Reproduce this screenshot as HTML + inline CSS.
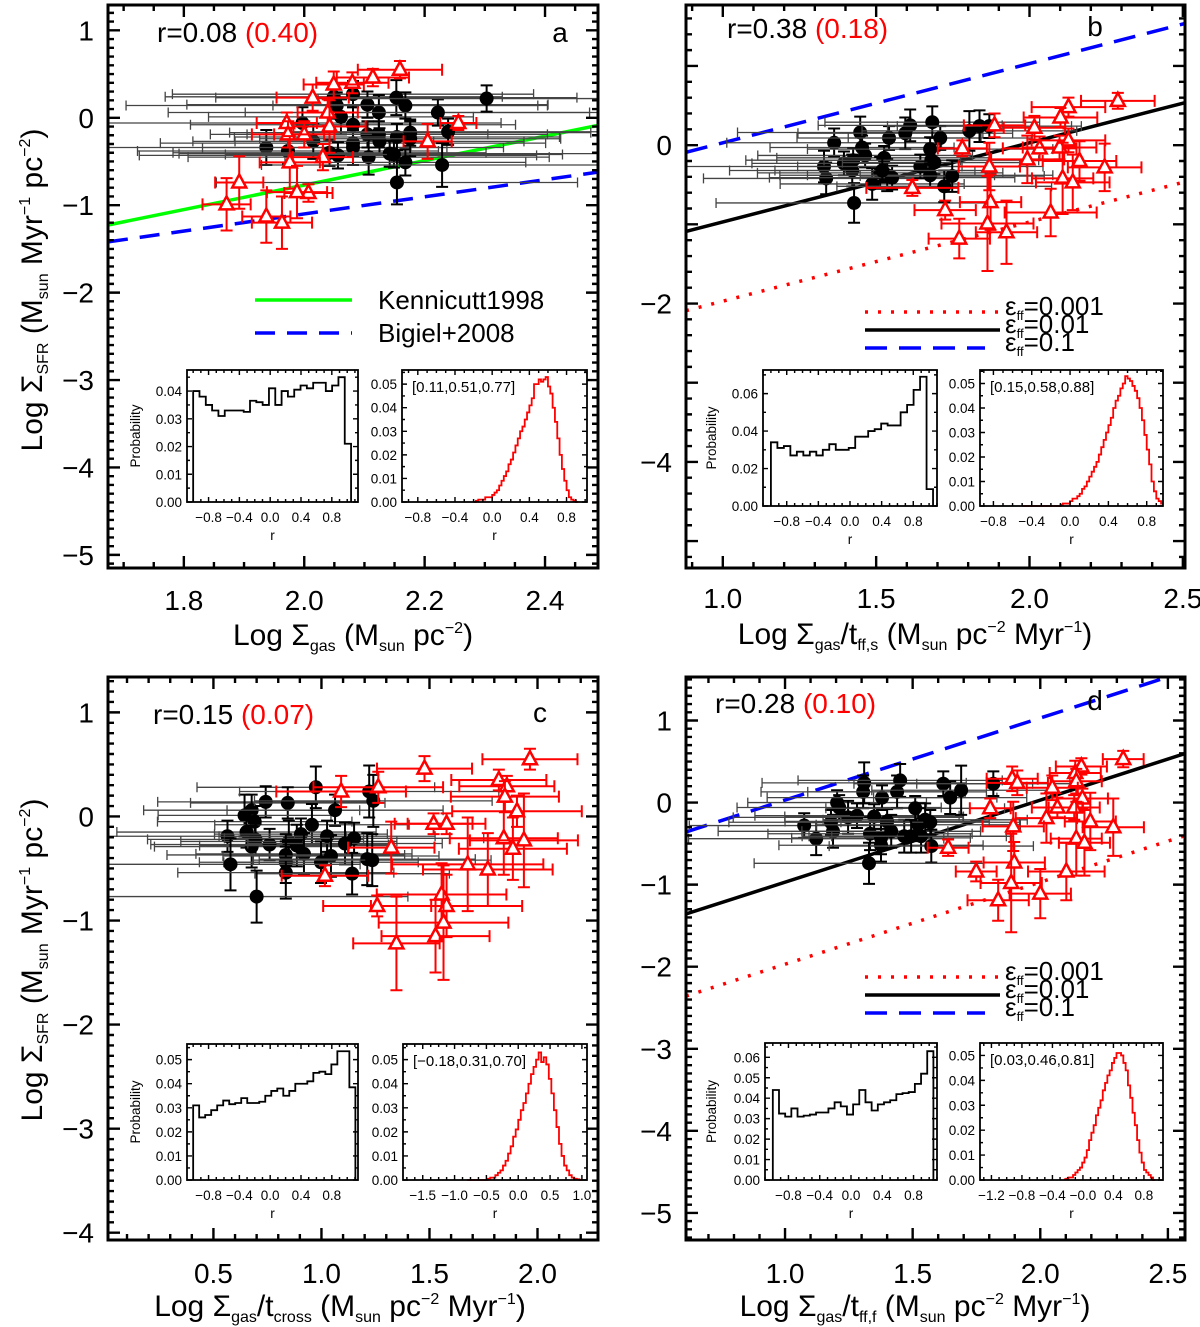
<!DOCTYPE html>
<html><head><meta charset="utf-8"><title>SFR correlation panels</title>
<style>
html,body{margin:0;padding:0;background:#fff;}
svg{display:block;font-family:"Liberation Sans",sans-serif;}
</style></head>
<body>
<svg id="fig" xmlns="http://www.w3.org/2000/svg" width="1200" height="1327" viewBox="0 0 1200 1327">
<rect width="1200" height="1327" fill="#fff"/>
</svg>
<script>
// ---------- data: panel a ----------
const aBlackX=[1.937,1.973,1.997,2.015,2.049,2.054,2.061,2.081,2.081,2.081,2.081,2.105,2.105,2.124,2.124,2.125,2.107,2.056,2.042,2.153,2.154,2.168,2.176,2.176,2.142,2.149,2.168,2.154,2.222,2.239,2.229,2.303];
const aBlackY=[-0.34,-0.38,-0.06,-0.27,0.24,0.14,0.01,0.27,-0.08,-0.29,-0.34,0.15,-0.19,0.06,-0.19,-0.27,-0.45,-0.43,-0.40,0.23,-0.22,0.14,-0.17,-0.24,-0.41,-0.42,-0.51,-0.74,0.06,-0.16,-0.54,0.22];
const aBlackXerr=[0.3,0.25,0.33,0.2,0.28,0.35,0.22,0.3,0.27,0.32,0.25,0.3,0.2,0.35,0.28,0.24,0.3,0.33,0.26,0.3,0.27,0.22,0.3,0.25,0.35,0.28,0.2,0.3,0.32,0.26,0.3,0.28];
const aBlackYerr=[0.2,0.15,0.18,0.2,0.15,0.15,0.2,0.15,0.2,0.15,0.2,0.15,0.15,0.2,0.15,0.15,0.2,0.15,0.15,0.2,0.15,0.15,0.15,0.2,0.15,0.15,0.15,0.25,0.15,0.15,0.25,0.15];
const aRedX=[2.159,2.114,2.080,2.049,2.014,2.039,1.971,2.042,2.000,1.973,2.256,2.205,2.031,1.976,1.892,1.871,2.007,1.988,1.937,1.963];
const aRedY=[0.55,0.46,0.40,0.38,0.23,0.06,-0.06,-0.10,-0.19,-0.19,-0.06,-0.27,-0.45,-0.51,-0.74,-0.99,-0.86,-0.85,-1.13,-1.20];
const aRedXerr=[0.07,0.06,0.06,0.05,0.06,0.05,0.05,0.06,0.05,0.06,0.03,0.04,0.05,0.05,0.04,0.04,0.04,0.05,0.04,0.05];
const aRedYerr=[0.1,0.1,0.12,0.15,0.15,0.15,0.12,0.3,0.15,0.15,0.08,0.2,0.15,0.3,0.3,0.3,0.1,0.3,0.3,0.3];
// ---------- data: panel b ----------
const bBlackX=[1.363,1.448,1.454,1.464,1.330,1.337,1.395,1.425,1.422,1.428,1.487,1.526,1.513,1.542,1.536,1.552,1.595,1.611,1.644,1.683,1.709,1.676,1.680,1.690,1.676,1.722,1.748,1.804,1.837,1.869,1.520];
const bBlackY=[0.03,0.16,-0.03,-0.13,-0.27,-0.42,-0.23,-0.19,-0.32,-0.73,-0.49,-0.16,-0.35,0.09,-0.38,-0.41,0.15,0.25,-0.27,0.29,0.09,-0.05,-0.19,-0.22,-0.38,-0.52,-0.39,0.18,0.24,0.24,-0.32];
const bBlackXerr=[0.35,0.4,0.3,0.35,0.45,0.4,0.3,0.35,0.4,0.45,0.3,0.35,0.4,0.3,0.35,0.4,0.35,0.3,0.4,0.35,0.3,0.4,0.35,0.3,0.4,0.35,0.3,0.35,0.3,0.3,0.35];
const bBlackYerr=[0.18,0.2,0.15,0.15,0.2,0.2,0.15,0.15,0.2,0.25,0.2,0.15,0.2,0.15,0.2,0.15,0.2,0.2,0.15,0.2,0.15,0.15,0.2,0.15,0.15,0.2,0.2,0.25,0.2,0.15,0.15];
const bRedX=[2.288,2.127,2.101,2.016,1.886,2.127,2.033,2.098,1.781,1.993,2.163,1.869,2.245,2.108,2.141,1.618,1.873,1.725,2.069,1.863,1.925,1.771];
const bRedY=[0.56,0.48,0.35,0.22,0.25,0.06,-0.04,-0.03,-0.04,-0.18,-0.20,-0.27,-0.28,-0.42,-0.47,-0.54,-0.72,-0.82,-0.85,-0.99,-1.10,-1.18];
const bRedXerr=[0.12,0.12,0.12,0.1,0.1,0.12,0.12,0.12,0.08,0.12,0.12,0.1,0.12,0.1,0.12,0.15,0.1,0.1,0.15,0.15,0.1,0.1];
const bRedYerr=[0.1,0.12,0.12,0.15,0.15,0.15,0.15,0.15,0.1,0.3,0.25,0.3,0.3,0.45,0.35,0.1,0.35,0.12,0.3,0.6,0.4,0.25];
// ---------- data: panel c ----------
const cBlackX=[0.974,0.742,0.844,0.677,0.644,0.691,1.063,0.956,0.653,0.565,0.695,0.677,0.760,0.849,0.905,0.886,1.026,1.151,1.109,0.919,0.835,0.835,1.044,0.998,0.579,0.835,1.142,1.221,1.240,1.212,1.235,0.700];
const cBlackY=[0.28,0.14,0.13,0.06,0.01,-0.05,0.06,-0.08,-0.15,-0.19,-0.22,-0.29,-0.27,-0.24,-0.17,-0.28,-0.19,-0.21,-0.26,-0.36,-0.37,-0.44,-0.38,-0.44,-0.46,-0.54,-0.55,0.24,0.15,-0.41,-0.42,-0.77];
const cBlackXerr=[0.55,0.5,0.45,0.5,0.4,0.45,0.5,0.45,0.6,0.55,0.5,0.45,0.55,0.5,0.4,0.45,0.5,0.6,0.45,0.5,0.55,0.4,0.5,0.45,0.6,0.5,0.45,0.6,0.55,0.5,0.55,0.7];
const cBlackYerr=[0.2,0.15,0.15,0.15,0.2,0.15,0.15,0.2,0.15,0.15,0.15,0.2,0.15,0.2,0.15,0.2,0.15,0.15,0.2,0.2,0.2,0.2,0.2,0.2,0.25,0.25,0.2,0.25,0.25,0.25,0.25,0.25];
const cRedX=[1.965,1.477,1.821,1.858,1.849,1.263,1.091,1.905,1.519,1.579,1.844,1.937,1.886,1.323,1.677,1.770,1.016,1.556,1.579,1.258,1.565,1.528,1.347];
const cRedY=[0.55,0.46,0.35,0.29,0.19,0.28,0.24,0.05,-0.07,-0.07,-0.21,-0.23,-0.31,-0.30,-0.46,-0.51,-0.57,-0.75,-0.86,-0.86,-1.02,-1.15,-1.22];
const cRedXerr=[0.22,0.22,0.22,0.22,0.25,0.3,0.3,0.3,0.18,0.18,0.25,0.25,0.25,0.2,0.35,0.3,0.2,0.3,0.35,0.25,0.3,0.25,0.2];
const cRedYerr=[0.1,0.12,0.1,0.1,0.15,0.15,0.15,0.15,0.1,0.1,0.35,0.45,0.3,0.25,0.45,0.35,0.1,0.3,0.3,0.1,0.55,0.35,0.45];
// ---------- data: panel d ----------
const dBlackX=[1.075,1.122,1.180,1.188,1.204,1.212,1.247,1.282,1.306,1.310,1.349,1.333,1.380,1.376,1.376,1.400,1.416,1.439,1.451,1.467,1.510,1.522,1.533,1.549,1.569,1.573,1.620,1.647,1.690,1.816,1.329,1.494];
const dBlackY=[-0.28,-0.44,-0.24,-0.35,0.00,-0.06,-0.18,-0.16,0.13,0.24,-0.17,-0.38,0.06,-0.43,-0.52,-0.23,-0.35,0.13,0.27,-0.41,-0.07,-0.27,-0.41,-0.21,-0.24,-0.53,0.23,0.06,0.15,0.23,-0.74,-0.41];
const dBlackXerr=[0.45,0.5,0.4,0.45,0.35,0.4,0.45,0.4,0.4,0.4,0.35,0.4,0.45,0.35,0.4,0.4,0.35,0.35,0.4,0.4,0.35,0.4,0.35,0.4,0.35,0.4,0.35,0.3,0.35,0.3,0.45,0.4];
const dBlackYerr=[0.15,0.2,0.15,0.2,0.15,0.15,0.2,0.15,0.2,0.25,0.15,0.2,0.15,0.2,0.2,0.15,0.2,0.2,0.2,0.2,0.15,0.2,0.2,0.2,0.15,0.2,0.15,0.2,0.3,0.15,0.25,0.2];
const dRedX=[2.325,2.161,2.137,2.141,1.890,1.910,2.047,2.165,1.804,2.067,2.133,2.024,2.196,1.894,2.286,2.141,2.173,1.639,1.898,1.749,2.102,1.886,2.000,1.835];
const dRedY=[0.53,0.44,0.36,0.26,0.29,0.24,0.18,0.05,-0.07,-0.06,-0.06,-0.19,-0.23,-0.29,-0.30,-0.44,-0.49,-0.55,-0.73,-0.84,-0.84,-0.98,-1.11,-1.19];
const dRedXerr=[0.08,0.1,0.1,0.1,0.1,0.12,0.1,0.1,0.08,0.1,0.1,0.12,0.1,0.12,0.12,0.1,0.1,0.08,0.12,0.08,0.15,0.12,0.12,0.12];
const dRedYerr=[0.1,0.1,0.15,0.15,0.15,0.15,0.15,0.12,0.12,0.12,0.15,0.3,0.35,0.3,0.35,0.45,0.4,0.1,0.25,0.12,0.35,0.6,0.3,0.25];
// ---------- inset histograms ----------
const aHist1=[0.040,0.038,0.035,0.033,0.031,0.033,0.033,0.033,0.0325,0.0365,0.036,0.035,0.041,0.035,0.040,0.038,0.0405,0.042,0.041,0.043,0.043,0.040,0.042,0.045,0.021];
const bHist1=[0.034,0.031,0.032,0.027,0.029,0.027,0.029,0.027,0.030,0.033,0.030,0.030,0.031,0.037,0.037,0.040,0.041,0.044,0.043,0.043,0.050,0.054,0.062,0.069,0.009];
const cHist1=[0.031,0.026,0.027,0.029,0.031,0.033,0.0315,0.032,0.034,0.032,0.032,0.0325,0.035,0.037,0.038,0.035,0.037,0.040,0.040,0.041,0.0445,0.045,0.044,0.048,0.0535,0.0535,0.0385];
const dHist1=[0.044,0.0325,0.031,0.035,0.031,0.0315,0.032,0.033,0.033,0.035,0.038,0.036,0.032,0.037,0.044,0.038,0.034,0.037,0.038,0.039,0.042,0.0425,0.043,0.047,0.052,0.063];
const aHist2=[0,0.0005,0.001,0.001,0.001,0.002,0.002,0.002,0.003,0.004,0.005,0.007,0.009,0.011,0.013,0.016,0.018,0.021,0.024,0.027,0.030,0.032,0.035,0.038,0.041,0.044,0.050,0.050,0.052,0.051,0.052,0.053,0.049,0.046,0.040,0.034,0.027,0.020,0.014,0.009,0.005,0.002,0.001,0.0005,0];
const bHist2=[0,0,0,0,0,0,0,0,0,0,0,0,0,0,0,0,0.0005,0.001,0.001,0.001,0.002,0.003,0.003,0.004,0.005,0.007,0.008,0.010,0.012,0.014,0.016,0.018,0.021,0.024,0.027,0.030,0.033,0.036,0.040,0.043,0.045,0.048,0.050,0.053,0.052,0.051,0.049,0.047,0.044,0.040,0.035,0.029,0.023,0.017,0.010,0.006,0.003,0.002,0.001];
const cHist2=[0,0,0,0,0,0,0,0,0.0005,0.001,0.001,0.002,0.003,0.004,0.006,0.008,0.011,0.014,0.018,0.021,0.025,0.029,0.032,0.036,0.040,0.044,0.047,0.050,0.053,0.049,0.051,0.048,0.042,0.036,0.029,0.022,0.015,0.010,0.006,0.004,0.002,0.001,0.0005,0.0003,0];
const dHist2=[0.0003,0.0005,0.001,0.001,0.002,0.003,0.004,0.005,0.007,0.009,0.012,0.016,0.019,0.022,0.026,0.029,0.032,0.036,0.039,0.042,0.044,0.047,0.049,0.051,0.051,0.050,0.047,0.044,0.038,0.033,0.027,0.022,0.016,0.011,0.007,0.004,0.003,0.002,0.001,0];

const NS="http://www.w3.org/2000/svg";
const svg=document.getElementById('fig');
function el(tag,attrs,parent){const e=document.createElementNS(NS,tag);for(const k in attrs)e.setAttribute(k,attrs[k]);(parent||svg).appendChild(e);return e;}
function lin(d0,d1,p0,p1){return v=>p0+(v-d0)*(p1-p0)/(d1-d0);}

function frameTicks(g,box,xs,ys,xr,yr,xmaj,xmin,ymaj,ymin,lw,majL,minL){
  const [L,T,R,B]=box;
  let d='';
  const eps=1e-9;
  for(let v=Math.ceil((xr[0]-eps)/xmin)*xmin; v<=xr[1]+eps; v+=xmin){
    const isMaj=Math.abs(v/xmaj-Math.round(v/xmaj))<1e-6;const len=isMaj?majL:minL;const px=xs(v);
    d+=`M${px},${B}v${-len}M${px},${T}v${len}`;
  }
  for(let v=Math.ceil((yr[0]-eps)/ymin)*ymin; v<=yr[1]+eps; v+=ymin){
    const isMaj=Math.abs(v/ymaj-Math.round(v/ymaj))<1e-6;const len=isMaj?majL:minL;const py=ys(v);
    d+=`M${L},${py}h${len}M${R},${py}h${-len}`;
  }
  const p=el('path',{d:d,stroke:'#000','stroke-width':lw*0.8,fill:'none'},g);
  
  
  const r=el('rect',{x:L,y:T,width:R-L,height:B-T,fill:'none',stroke:'#000','stroke-width':lw},g);
  
  
}

function mainPanel(cfg){
  const g=el('g',{});
  
  
  const [L,T,R,B]=cfg.box;
  const xs=lin(cfg.xr[0],cfg.xr[1],L,R), ys=lin(cfg.yr[0],cfg.yr[1],B,T);
  const cid='clip'+cfg.id;
  const cp=el('clipPath',{id:cid},g);el('rect',{x:L,y:T,width:R-L,height:B-T},cp);
  const inner=el('g',{'clip-path':`url(#${cid})`},g);
  cfg.lines.forEach(ln=>{
    const p=el('line',{x1:xs(cfg.xr[0]),y1:ys(ln.a*cfg.xr[0]+ln.b),x2:xs(cfg.xr[1]),y2:ys(ln.a*cfg.xr[1]+ln.b),stroke:ln.c,'stroke-width':ln.w,'stroke-dasharray':ln.dash||'none'},inner);
    
    
  });
  const bg=el('g',{},inner);
  
  
  cfg.bx.forEach((x,i)=>{
    const y=cfg.by[i],ex=cfg.bxe[i],ey=cfg.bye[i];
    const x0=xs(x-ex),x1=xs(x+ex),y0=ys(y-ey),y1=ys(y+ey),px=xs(x),py=ys(y);
    el('path',{d:`M${x0},${py}H${x1}M${x0},${py-5}v10M${x1},${py-5}v10`,stroke:'#444','stroke-width':1.3,fill:'none'},bg);
    el('path',{d:`M${px},${y0}V${y1}M${px-6},${y0}h12M${px-6},${y1}h12`,stroke:'#000','stroke-width':2,fill:'none'},bg);
    const c=el('circle',{cx:px,cy:py,r:7,fill:'#000'},bg);
    
    
  });
  const rg=el('g',{},inner);
  
  
  cfg.rx.forEach((x,i)=>{
    const y=cfg.ry[i],ex=cfg.rxe[i],ey=cfg.rye[i];
    const x0=xs(x-ex),x1=xs(x+ex),y0=ys(y-ey),y1=ys(y+ey),px=xs(x),py=ys(y);
    el('path',{d:`M${x0},${py}H${x1}M${x0},${py-6}v12M${x1},${py-6}v12M${px},${y0}V${y1}M${px-6},${y0}h12M${px-6},${y1}h12`,stroke:'#f00','stroke-width':2,fill:'none'},rg);
    const t=el('path',{d:`M${px},${py-8}L${px+7},${py+5}L${px-7},${py+5}Z`,stroke:'#f00','stroke-width':2.5,fill:'#fff'},rg);
    
    
  });
  frameTicks(g,cfg.box,xs,ys,cfg.xr,cfg.yr,cfg.xmaj,cfg.xmin,cfg.ymaj,cfg.ymin,3,12,6);
  cfg.xticks.forEach(v=>{const t=el('text',{x:xs(v),y:cfg.xlabY,'font-size':28,'text-anchor':'middle'},g);t.textContent=v.toFixed(1);
    });
  cfg.yticks.forEach(v=>{const t=el('text',{x:L-14,y:ys(v)+10,'font-size':28,'text-anchor':'end'},g);t.textContent=(v<0?'\u2212'+(-v):String(v));
    });
  const rt=el('text',{x:cfg.rpos[0],y:cfg.rpos[1],'font-size':28},g);
  
  
  const t1=el('tspan',{},rt);t1.textContent=cfg.rtxt;
  const t2=el('tspan',{fill:'#f00'},rt);t2.textContent=cfg.rred;
  const pl=el('text',{x:cfg.lpos[0],y:cfg.lpos[1],'font-size':28,'text-anchor':'middle'},g);pl.textContent=cfg.id;
  
  
  return {xs,ys,g};
}

function inset(cfg,g){
  const [L,T,R,B]=cfg.box;
  const xs=lin(cfg.xr[0],cfg.xr[1],L,R), ys=lin(0,cfg.ymax,B,T);
  const ig=el('g',{},g);
  
  
  el('rect',{x:L,y:T,width:R-L,height:B-T,fill:'#fff'},ig);
  const n=cfg.vals.length;let d='';
  for(let i=0;i<n;i++){
    const x0=xs(cfg.start+i*cfg.w),x1=xs(cfg.start+(i+1)*cfg.w),y=ys(cfg.vals[i]);
    d+=(i===0?`M${x0},${cfg.closed?ys(0):y}L${x0},${y}`:`L${x0},${y}`)+`L${x1},${y}`;
    if(i===n-1&&cfg.closed)d+=`L${x1},${ys(0)}`;
  }
  const h=el('path',{d:d,fill:'none',stroke:cfg.color,'stroke-width':1.8},ig);
  
  
  frameTicks(ig,cfg.box,xs,ys,cfg.xr,[0,cfg.ymax],cfg.xmaj,cfg.xmaj/4,cfg.ystep,cfg.ystep/2,1.8,5,3);
  cfg.xticks.forEach((v,i)=>{const t=el('text',{x:xs(v),y:B+20,'font-size':13.5,'text-anchor':'middle'},ig);t.textContent=cfg.xlabels[i];
    });
  for(let v=0;v<=cfg.ymax+1e-9;v+=cfg.ystep){const t=el('text',{x:L-5,y:ys(v)+5,'font-size':13.5,'text-anchor':'end'},ig);t.textContent=v.toFixed(2);
    }
  const rl=el('text',{x:(L+R)/2,y:B+38,'font-size':13.5,'text-anchor':'middle'},ig);rl.textContent='r';
  
  if(cfg.prob){const p=el('text',{x:0,y:0,'font-size':13.5,'text-anchor':'middle',transform:`translate(${cfg.probX},${(T+B)/2}) rotate(-90)`},ig);p.textContent='Probability';
    }
  if(cfg.label){const t=el('text',{x:L+10,y:T+22,'font-size':15},ig);t.textContent=cfg.label;
    }
}

const h1lab=['\u22120.8','\u22120.4','0.0','0.4','0.8'];
// ---- panel a
let P=mainPanel({id:'a',box:[108,5,598,568],xr:[1.674,2.488],yr:[-5.15,1.29],xmaj:0.2,xmin:0.05,ymaj:1,ymin:0.1,
 xticks:[1.8,2.0,2.2,2.4],yticks:[1,0,-1,-2,-3,-4,-5],xlabY:610,
 lines:[{a:1.4,b:-3.57,c:'#0f0',w:3.5,name:'kennicutt-line'},{a:0.98,b:-3.06,c:'#00f',w:3.5,dash:'20,12',name:'bigiel-line'}],
 bx:aBlackX,by:aBlackY,bxe:aBlackXerr,bye:aBlackYerr,rx:aRedX,ry:aRedY,rxe:aRedXerr,rye:aRedYerr,
 rpos:[157,42],rtxt:'r=0.08 ',rred:'(0.40)',lpos:[560,42]});
el('line',{x1:255,y1:300,x2:352,y2:300,stroke:'#0f0','stroke-width':3.5},P.g);
let lt=el('text',{x:378,y:309,'font-size':26},P.g);lt.textContent='Kennicutt1998';

el('line',{x1:255,y1:333,x2:352,y2:333,stroke:'#00f','stroke-width':3.5,'stroke-dasharray':'20,12'},P.g);
lt=el('text',{x:378,y:342,'font-size':26},P.g);lt.textContent='Bigiel+2008';

inset({name:'inset-null-hist-a',box:[187,370,358,502],xr:[-1.08,1.14],ymax:0.0476,ystep:0.01,xmaj:0.4,xticks:[-0.8,-0.4,0,0.4,0.8],xlabels:h1lab,vals:aHist1,start:-1,w:0.082,color:'#000',closed:true,prob:true,probX:140},P.g);
inset({name:'inset-obs-hist-a',box:[402,370,587,502],xr:[-0.97,1.02],ymax:0.056,ystep:0.01,xmaj:0.4,xticks:[-0.8,-0.4,0,0.4,0.8],xlabels:h1lab,vals:aHist2,start:-0.2,w:0.025,color:'#f00',label:'[0.11,0.51,0.77]'},P.g);

// ---- panel b
P=mainPanel({id:'b',box:[686,5,1185,568],xr:[0.88,2.507],yr:[-5.34,1.77],xmaj:0.5,xmin:0.1,ymaj:1,ymin:0.2,
 xticks:[1.0,1.5,2.0,2.5],yticks:[0,-2,-4],xlabY:608,
 lines:[{a:1,b:-2.97,c:'#f00',w:3.5,dash:'3,10',name:'eff-0.001-line'},{a:1,b:-1.97,c:'#000',w:3.5,name:'eff-0.01-line'},{a:1,b:-0.97,c:'#00f',w:3.5,dash:'22,12',name:'eff-0.1-line'}],
 bx:bBlackX,by:bBlackY,bxe:bBlackXerr,bye:bBlackYerr,rx:bRedX,ry:bRedY,rxe:bRedXerr,rye:bRedYerr,
 rpos:[727,38],rtxt:'r=0.38 ',rred:'(0.18)',lpos:[1095,36]});
function effLegend(g,y0){
  const items=[['0.001','#f00','3,10'],['0.01','#000','none'],['0.1','#00f','22,12']];
  items.forEach((it,i)=>{
    const y=y0+i*18;
    el('line',{x1:865,y1:y,x2:i===2?985:1000,y2:y,stroke:it[1],'stroke-width':3.5,'stroke-dasharray':it[2]},g);
    const t=el('text',{x:1005,y:y+3,'font-size':26},g);
    
    const a=el('tspan',{},t);a.textContent='\u03b5';
    const b=el('tspan',{'font-size':13,dy:5},t);b.textContent='ff';
    const c=el('tspan',{dy:-5},t);c.textContent='='+it[0];
  });
}
effLegend(P.g,312);
inset({name:'inset-null-hist-b',box:[763,370,937,506],xr:[-1.1,1.1],ymax:0.0726,ystep:0.02,xmaj:0.4,xticks:[-0.8,-0.4,0,0.4,0.8],xlabels:h1lab,vals:bHist1,start:-1,w:0.082,color:'#000',closed:true,prob:true,probX:716},P.g);
inset({name:'inset-obs-hist-b',box:[980,370,1163,506],xr:[-0.94,0.97],ymax:0.0555,ystep:0.01,xmaj:0.4,xticks:[-0.8,-0.4,0,0.4,0.8],xlabels:h1lab,vals:bHist2,start:-0.5,w:0.025,color:'#f00',label:'[0.15,0.58,0.88]'},P.g);

// ---- panel c
P=mainPanel({id:'c',box:[108,677,598,1240],xr:[0.012,2.28],yr:[-4.07,1.34],xmaj:0.5,xmin:0.1,ymaj:1,ymin:0.1,
 xticks:[0.5,1.0,1.5,2.0],yticks:[1,0,-1,-2,-3,-4],xlabY:1283,
 lines:[],
 bx:cBlackX,by:cBlackY,bxe:cBlackXerr,bye:cBlackYerr,rx:cRedX,ry:cRedY,rxe:cRedXerr,rye:cRedYerr,
 rpos:[153,724],rtxt:'r=0.15  ',rred:'(0.07)',lpos:[540,722]});
inset({name:'inset-null-hist-c',box:[187,1044,358,1180],xr:[-1.08,1.14],ymax:0.0565,ystep:0.01,xmaj:0.4,xticks:[-0.8,-0.4,0,0.4,0.8],xlabels:h1lab,vals:cHist1,start:-1,w:0.078,color:'#000',closed:true,prob:true,probX:140},P.g);
inset({name:'inset-obs-hist-c',box:[403,1044,587,1180],xr:[-1.81,1.08],ymax:0.0565,ystep:0.01,xmaj:0.5,xticks:[-1.5,-1.0,-0.5,0,0.5,1.0],xlabels:['\u22121.5','\u22121.0','\u22120.5','0.0','0.5','1.0'],vals:cHist2,start:-0.8,w:0.04,color:'#f00',label:'[\u22120.18,0.31,0.70]'},P.g);

// ---- panel d
P=mainPanel({id:'d',box:[686,677,1185,1240],xr:[0.612,2.567],yr:[-5.33,1.53],xmaj:0.5,xmin:0.1,ymaj:1,ymin:0.1,
 xticks:[1.0,1.5,2.0,2.5],yticks:[1,0,-1,-2,-3,-4,-5],xlabY:1283,
 lines:[{a:1,b:-2.97,c:'#f00',w:3.5,dash:'3,10',name:'eff-0.001-line'},{a:1,b:-1.97,c:'#000',w:3.5,name:'eff-0.01-line'},{a:1,b:-0.97,c:'#00f',w:3.5,dash:'22,12',name:'eff-0.1-line'}],
 bx:dBlackX,by:dBlackY,bxe:dBlackXerr,bye:dBlackYerr,rx:dRedX,ry:dRedY,rxe:dRedXerr,rye:dRedYerr,
 rpos:[715,713],rtxt:'r=0.28 ',rred:'(0.10)',lpos:[1095,710]});
effLegend(P.g,977);
inset({name:'inset-null-hist-d',box:[765,1043,937,1180],xr:[-1.1,1.1],ymax:0.067,ystep:0.01,xmaj:0.4,xticks:[-0.8,-0.4,0,0.4,0.8],xlabels:h1lab,vals:dHist1,start:-1,w:0.079,color:'#000',closed:true,prob:true,probX:716},P.g);
inset({name:'inset-obs-hist-d',box:[980,1043,1163,1180],xr:[-1.35,1.05],ymax:0.055,ystep:0.01,xmaj:0.4,xticks:[-1.2,-0.8,-0.4,0,0.4,0.8],xlabels:['\u22121.2','\u22120.8','\u22120.4','\u22120.0','0.4','0.8'],vals:dHist2,start:-0.25,w:0.03,color:'#f00',label:'[0.03,0.46,0.81]'},P.g);
</script>
<script>
(function(){
 const svg=document.getElementById('fig');const NS="http://www.w3.org/2000/svg";
 function T(html,x,y,rot,name){
   const t=document.createElementNS(NS,'text');
   t.setAttribute('x',0);t.setAttribute('y',0);t.setAttribute('font-size','30');t.setAttribute('text-anchor','middle');
   t.setAttribute('transform',`translate(${x},${y})`+(rot?' rotate(-90)':''));
   t.innerHTML=html;
   
   
   svg.appendChild(t);
 }
 const sub=s=>`<tspan font-size="16" dy="6">${s}</tspan><tspan dy="-6">`;
 const sup=s=>`</tspan><tspan font-size="16" dy="-12">${s}</tspan><tspan dy="12">`;
 const ysfr=`<tspan>Log Σ</tspan>${sub('SFR')} (M</tspan>${sub('sun')} Myr${sup('−1')} pc${sup('−2')})</tspan>`;
 T(ysfr,42,290,true,'y-axis-title');
 T(ysfr,42,960,true,'y-axis-title');
 T(`<tspan>Log Σ</tspan>${sub('gas')} (M</tspan>${sub('sun')} pc${sup('−2')})</tspan>`,353,645,false,'x-axis-title');
 T(`<tspan>Log Σ</tspan>${sub('gas')}/t</tspan>${sub('ff,s')} (M</tspan>${sub('sun')} pc${sup('−2')} Myr${sup('−1')})</tspan>`,915,644,false,'x-axis-title');
 T(`<tspan>Log Σ</tspan>${sub('gas')}/t</tspan>${sub('cross')} (M</tspan>${sub('sun')} pc${sup('−2')} Myr${sup('−1')})</tspan>`,340,1316,false,'x-axis-title');
 T(`<tspan>Log Σ</tspan>${sub('gas')}/t</tspan>${sub('ff,f')} (M</tspan>${sub('sun')} pc${sup('−2')} Myr${sup('−1')})</tspan>`,915,1316,false,'x-axis-title');
})();
</script>
</body></html>
